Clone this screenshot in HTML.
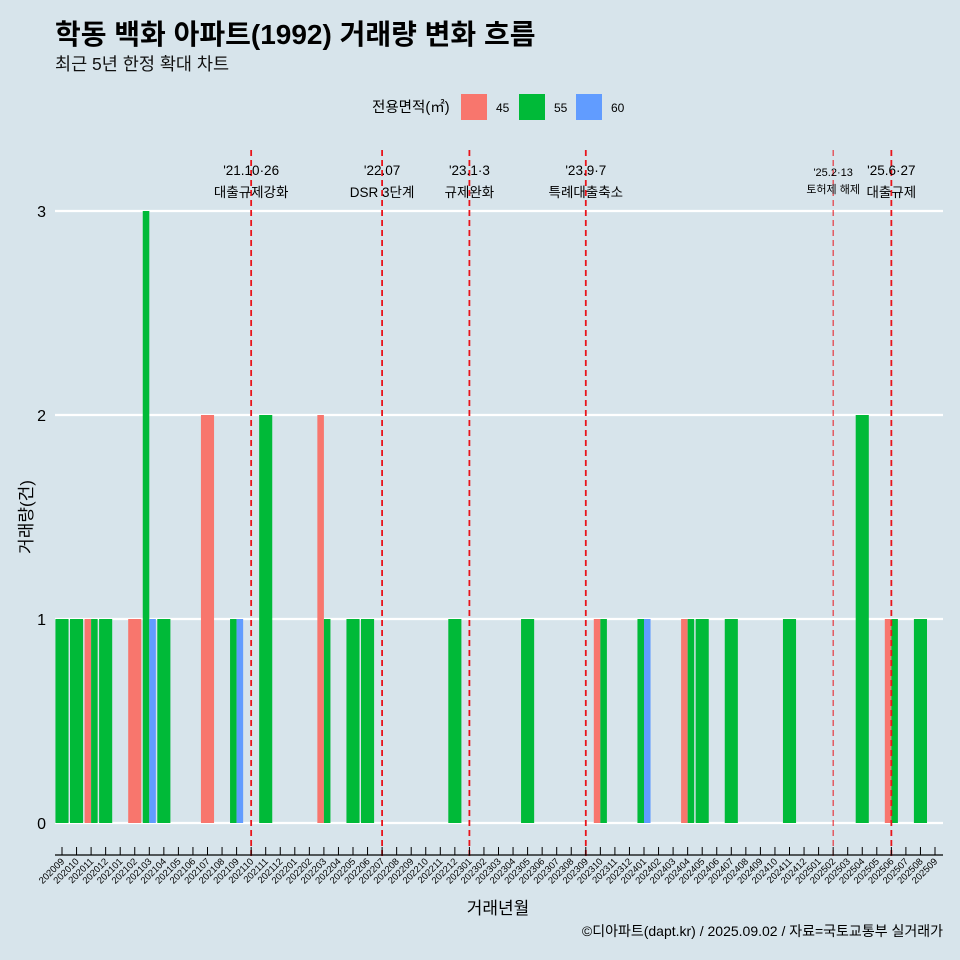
<!DOCTYPE html>
<html><head><meta charset="utf-8"><style>
html,body{margin:0;padding:0;overflow:hidden;background:#d7e4eb;font-family:"Liberation Sans","Noto Sans CJK KR",sans-serif}
svg{display:block}
</style></head><body>
<svg width="960" height="960" xmlns="http://www.w3.org/2000/svg" style="font-family:'Liberation Sans','Noto Sans CJK KR',sans-serif">
<rect width="960" height="960" fill="#d7e4eb"/>
<text x="55" y="44" font-size="28" font-weight="bold" fill="#000">학동 백화 아파트(1992) 거래량 변화 흐름</text>
<text x="55" y="70" font-size="17.5" fill="#111">최근 5년 한정 확대 차트</text>
<g>
<text x="372" y="112" font-size="14.5">전용면적(㎡)</text>
<rect x="461" y="94" width="26" height="26" fill="#f8766d"/>
<text x="496" y="112" font-size="12">45</text>
<rect x="519" y="94" width="26" height="26" fill="#00ba38"/>
<text x="554" y="112" font-size="12">55</text>
<rect x="576" y="94" width="26" height="26" fill="#619cff"/>
<text x="611" y="112" font-size="12">60</text>
</g>
<g id="grid"></g><g id="bars"></g><g id="vlines"></g><g id="axis"></g>
<text x="32" y="517" font-size="17" transform="rotate(-90 32 517)" text-anchor="middle">거래량(건)</text>
<text x="498" y="914" font-size="17" text-anchor="middle">거래년월</text>
<text x="943" y="936" font-size="14" text-anchor="end">©디아파트(dapt.kr) / 2025.09.02 / 자료=국토교통부 실거래가</text>
</svg>
<script>
const months=[];for(let y=2020,m=9;!(y===2025&&m===10);){months.push(''+y+(m<10?'0':'')+m);m++;if(m>12){m=1;y++;}}
const series=['45','55','60'];
const colors={'45':'#f8766d','55':'#00ba38','60':'#619cff'};
const barMonths=['202009','202010','202011','202011','202012','202102','202103','202103','202104','202107','202109','202109','202111','202203','202203','202205','202206','202212','202305','202310','202310','202401','202401','202404','202404','202405','202407','202411','202504','202506','202506','202508'];
const barSeries=['55','55','45','55','55','45','55','60','55','45','55','60','55','45','55','55','55','55','55','45','55','55','60','45','55','55','55','55','55','45','55','55'];
const barValues=[1,1,1,1,1,1,3,1,1,2,1,1,2,2,1,1,1,1,1,1,1,1,1,1,1,1,1,1,2,1,1,1];
const yTicks=[0,1,2,3];
const eventMonths=['202110','202207','202301','202309','202502','202506'];
const eventLine1=["'21.10·26","'22.07","'23.1·3","'23.9·7","'25.2·13","'25.6·27"];
const eventLine2=['대출규제강화','DSR 3단계','규제완화','특례대출축소','토허제 해제','대출규제'];
const NS='http://www.w3.org/2000/svg';
const x=i=>62+14.55*i, y=v=>823-204*v, bw=13.1;
function mk(t,a,p){const e=document.createElementNS(NS,t);for(const k in a)e.setAttribute(k,a[k]);p.appendChild(e);return e;}
const grid=document.getElementById('grid');
yTicks.forEach(v=>{
 const l=mk('line',{x1:55,x2:943,y1:y(v),y2:y(v),stroke:'#fff','stroke-width':2.2},grid);
 
 
 const t=mk('text',{x:46,y:y(v)+6,'font-size':16,'text-anchor':'end'},grid);t.textContent=v;
 
 
});
const bars=document.getElementById('bars');
months.forEach((m,i)=>{
 const idx=[];barMonths.forEach((bm,j)=>{if(bm===m)idx.push(j);});
 const n=idx.length;if(!n)return;
 idx.forEach((j,k)=>{
  const w=bw/n;const v=barValues[j];
  const r=mk('rect',{x:x(i)-bw/2+k*w,y:y(v),width:w,height:y(0)-y(v),fill:colors[barSeries[j]]},bars);
  
  
 });
});
const vl=document.getElementById('vlines');
eventMonths.forEach((m,k)=>{
 const i=months.indexOf(m);const thin=m==='202502';
 const l=mk('line',{x1:x(i),x2:x(i),y1:150,y2:856,stroke:'#e8141b','stroke-width':thin?1:1.8,'stroke-dasharray':'6,4'},vl);
 
 
 const fs=thin?11:13.5;
 const t1=mk('text',{x:x(i),y:thin?176:175,'font-size':fs,'text-anchor':'middle'},vl);t1.textContent=eventLine1[k];
 
 
 const t2=mk('text',{x:x(i),y:thin?193:197,'font-size':fs,'text-anchor':'middle'},vl);t2.textContent=eventLine2[k];
 
 
});
const ax=document.getElementById('axis');
const al=mk('line',{x1:55,x2:943,y1:855,y2:855,stroke:'#000','stroke-width':1.2},ax);


months.forEach((m,i)=>{
 const tk=mk('line',{x1:x(i),x2:x(i),y1:847,y2:855,stroke:'#000','stroke-width':1},ax);
 
 
 const t=mk('text',{x:x(i)+3,y:862,'font-size':9.5,'text-anchor':'end',transform:`rotate(-45 ${x(i)+3} 862)`},ax);t.textContent=m;
 
 
});
</script>
</body></html>
